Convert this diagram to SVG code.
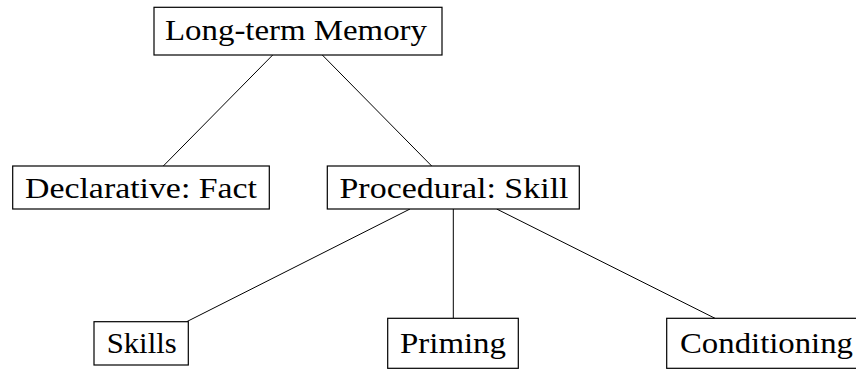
<svg xmlns="http://www.w3.org/2000/svg" width="856" height="369" viewBox="0 0 856 369">
<style>
rect.box{fill:#fff;stroke:#000;stroke-width:1.2}
text{font-family:"Liberation Serif","Times New Roman",serif;font-size:30px;fill:#000}
.edge{stroke:#000;stroke-width:1;fill:none}
</style>
<rect width="856" height="369" fill="#fff"/>
<g id="connectors">
<line class="edge" x1="272.7" y1="55" x2="163.3" y2="166"/>
<line class="edge" x1="322.3" y1="55" x2="431.7" y2="166"/>
<line class="edge" x1="410" y1="209" x2="186.7" y2="321.7"/>
<line class="edge" x1="453.3" y1="209" x2="453.3" y2="318.3"/>
<line class="edge" x1="496.7" y1="209" x2="715" y2="318.3"/>
</g>
<g id="ltm">
<rect class="box" x="154" y="7.3" width="288" height="47.7"/>
<text x="165" y="39.5" textLength="262" lengthAdjust="spacingAndGlyphs">Long-term Memory</text>
</g>
<g id="declarative">
<rect class="box" x="12.7" y="166" width="256.6" height="43"/>
<text x="25" y="198.3" textLength="232" lengthAdjust="spacingAndGlyphs">Declarative: Fact</text>
</g>
<g id="procedural">
<rect class="box" x="327.3" y="166" width="252" height="43"/>
<text x="339.5" y="198.3" textLength="229" lengthAdjust="spacingAndGlyphs">Procedural: Skill</text>
</g>
<g id="skills">
<rect class="box" x="94" y="321.7" width="94.3" height="43.3"/>
<text x="106.7" y="353.3" textLength="70" lengthAdjust="spacingAndGlyphs">Skills</text>
</g>
<g id="priming">
<rect class="box" x="387.7" y="318.3" width="130.6" height="50"/>
<text x="400" y="353.3" textLength="106" lengthAdjust="spacingAndGlyphs">Priming</text>
</g>
<g id="conditioning">
<rect class="box" x="666.7" y="318.3" width="200" height="50"/>
<text x="680" y="353.3" textLength="173" lengthAdjust="spacingAndGlyphs">Conditioning</text>
</g>
</svg>
